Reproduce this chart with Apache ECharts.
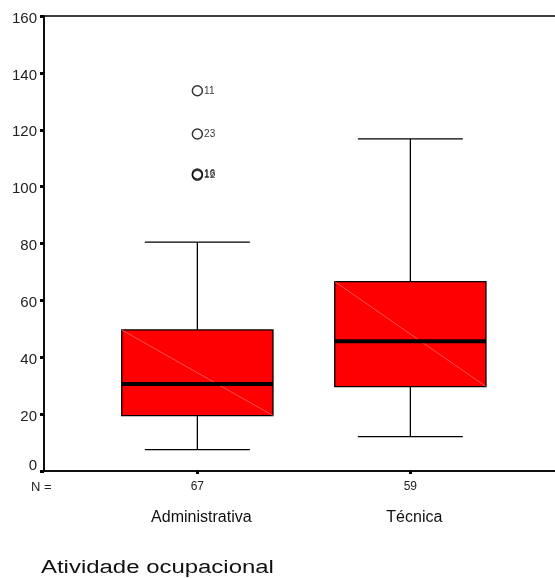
<!DOCTYPE html>
<html><head><meta charset="utf-8">
<script src="https://cdn.jsdelivr.net/npm/echarts@6/dist/echarts.min.js"></script>
<style>html,body{margin:0;padding:0;background:#fff}#c{width:555px;height:578px}</style>
</head><body><div id="c"></div>
<script>
// ---- data ----
const categories = ['Administrativa', 'Técnica'];
const nCounts = [67, 59];
const whiskerLow = [7.5, 12.1];
const q1 = [19.5, 29.7];
const median = [30.6, 45.6];
const q3 = [49.6, 66.6];
const whiskerHigh = [80.5, 116.8];
// outliers: [category index, value, case label]
const outlierCat = [0, 0, 0, 0];
const outlierVal = [133.7, 118.5, 104.4, 104.0];
const outlierLbl = ['11', '23', '16', '12'];
const yTicks = [0, 20, 40, 60, 80, 100, 120, 140, 160];
const xTitle = 'Atividade ocupacional';

const FONT = 'Liberation Sans, Arial, sans-serif';
const chart = echarts.init(document.getElementById('c'), null, {renderer: 'canvas'});

const boxData = categories.map((c, i) => [i + 1, whiskerLow[i], q1[i], median[i], q3[i], whiskerHigh[i]]);
const outData = outlierVal.map((v, i) => [outlierCat[i] + 1, v, outlierLbl[i]]);

function renderBox(params, api) {
  const x = api.value(0);
  const lo = api.coord([x, api.value(1)]);
  const b1 = api.coord([x, api.value(2)]);
  const md = api.coord([x, api.value(3)]);
  const b3 = api.coord([x, api.value(4)]);
  const hi = api.coord([x, api.value(5)]);
  const cx = lo[0];
  const hb = api.size([0.71, 0])[0] / 2;
  const hc = api.size([0.493, 0])[0] / 2;
  const ln = {stroke: '#000', lineWidth: 1.3};
  return {
    type: 'group',
    children: [
      {type: 'line', shape: {x1: cx, y1: b3[1], x2: cx, y2: hi[1]}, style: ln},
      {type: 'line', shape: {x1: cx, y1: b1[1], x2: cx, y2: lo[1]}, style: ln},
      {type: 'line', shape: {x1: cx - hc, y1: hi[1], x2: cx + hc, y2: hi[1]}, style: ln},
      {type: 'line', shape: {x1: cx - hc, y1: lo[1], x2: cx + hc, y2: lo[1]}, style: ln},
      {type: 'rect', shape: {x: cx - hb, y: b3[1], width: 2 * hb, height: b1[1] - b3[1]},
        style: {fill: '#ff0000', stroke: '#000', lineWidth: 1.3}},
      {type: 'line', shape: {x1: cx - hb, y1: b3[1], x2: cx + hb, y2: b1[1]},
        style: {stroke: 'rgba(255,150,150,0.9)', lineWidth: 0.6}},
      {type: 'line', shape: {x1: cx - hb, y1: md[1], x2: cx + hb, y2: md[1]},
        style: {stroke: '#000', lineWidth: 4}}
    ]
  };
}

const option = {
  backgroundColor: '#fff',
  animation: false,
  textStyle: {fontFamily: FONT},
  grid: {left: 44, top: 16, width: 532.5, bottom: 107, show: true, containLabel: false,
    outerBoundsMode: 'none',
    borderColor: '#000', borderWidth: 1.5, backgroundColor: 'transparent'},
  xAxis: [{
    type: 'value', min: 0.28, max: 2.78,
    splitLine: {show: false},
    axisLine: {show: true, lineStyle: {color: '#000', width: 1.5}},
    axisTick: {show: true, customValues: [1, 2], length: 3, lineStyle: {color: '#000', width: 3}},
    axisLabel: {show: true, customValues: [1, 2], margin: 10, fontSize: 12, color: '#222', fontFamily: FONT,
      formatter: v => String(nCounts[Math.round(v) - 1])}
  }, {
    type: 'value', min: 0.28, max: 2.78, position: 'bottom',
    splitLine: {show: false}, axisLine: {show: false}, axisTick: {show: false},
    axisLabel: {show: true, customValues: [1, 2], margin: 39, fontSize: 16, color: '#111', fontFamily: FONT,
      padding: [0, 0, 0, 8],
      formatter: v => categories[Math.round(v) - 1]}
  }],
  yAxis: {
    type: 'value', min: 0, max: 160, interval: 20,
    splitLine: {show: false},
    axisLine: {show: true, lineStyle: {color: '#000', width: 1.5}},
    axisTick: {show: true, length: 4, lineStyle: {color: '#000', width: 3}},
    axisLabel: {margin: 7, color: '#222', fontFamily: FONT, fontSize: 15,
      formatter: v => v === 0 ? '{z|0}' : '{a|' + v + '}',
      rich: {a: {fontSize: 15, color: '#222', fontFamily: FONT, padding: [5, 0, 0, 0]},
             z: {fontSize: 15, color: '#222', fontFamily: FONT, padding: [0, 0, 10, 0]}}}
  },
  series: [{
    type: 'custom', xAxisIndex: 0, yAxisIndex: 0,
    renderItem: renderBox, data: boxData, encode: {x: 0, y: [1, 2, 3, 4, 5]}, clip: false
  }, {
    type: 'scatter', xAxisIndex: 0, yAxisIndex: 0,
    data: outData, symbol: 'circle', symbolSize: 10,
    itemStyle: {color: 'transparent', borderColor: '#000', borderWidth: 1.5},
    label: {show: true, position: 'right', distance: 1, fontSize: 10, color: '#000', fontFamily: FONT,
      formatter: p => p.data[2]},
    emphasis: {disabled: true}
  }],
  graphic: [
    {type: 'text', left: 31, top: 481, style: {text: 'N =', fontSize: 13, fill: '#222', fontFamily: FONT}},
    {type: 'text', x: 41, y: 559, scaleX: 1.33, style: {text: xTitle, fontSize: 18, fill: '#111', fontFamily: FONT}}
  ]
};
chart.setOption(option);
</script>
</body></html>
